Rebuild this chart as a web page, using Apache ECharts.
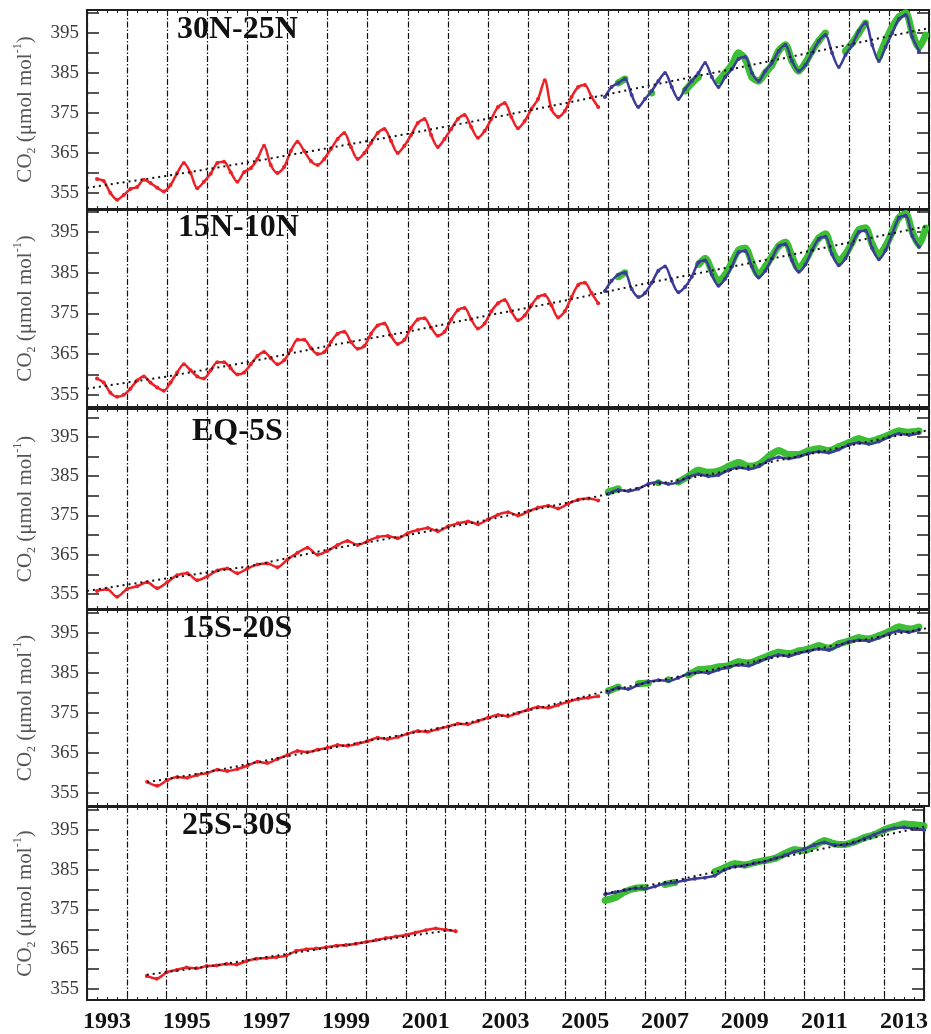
<!DOCTYPE html>
<html>
<head>
<meta charset="utf-8">
<script src="https://cdn.jsdelivr.net/npm/echarts@6/dist/echarts.min.js"></script>
<style>
  html, body { margin: 0; padding: 0; background: #fff; }
  #chart { width: 931px; height: 1034px; }
</style>
</head>
<body>
<div id="chart"></div>
<script>
// tick labels / names
const yearLabels = ['1993', '1994', '1995', '1996', '1997', '1998', '1999', '2000', '2001', '2002', '2003',
  '2004', '2005', '2006', '2007', '2008', '2009', '2010', '2011', '2012', '2013'];
const panelNames = ['30N-25N', '15N-10N', 'EQ-5S', '15S-20S', '25S-30S'];
const yTickValues = [355, 360, 365, 370, 375, 380, 385, 390, 395, 400];
const yLabelValues = [355, 365, 375, 385, 395];

// ---- 30N-25N ----  red: from 1993.25 every 2 months, blue: from 2005.917, green: from 2006.25
const red30N = [358.5, 358, 355, 353.3, 354.5, 356,
  356.5, 358.3, 357.5, 356.3, 355.4, 357,
  360, 362.5, 360, 356.2, 357.8, 359.8,
  362.5, 362.8, 360.2, 357.8, 360.2, 361.2,
  363.5, 366.8, 362, 360, 361.5, 365.5,
  367.8, 365.5, 363, 362, 363.5, 366,
  368.5, 370, 366.5, 363.5, 365, 367.5,
  370, 371, 368, 365, 366.8, 369.5,
  372.5, 373.5, 369.5, 366.5, 368.5, 371,
  373.5, 374.5, 371.5, 368.8, 370.5, 373.5,
  376.5, 377.5, 374, 371.2, 373, 376,
  378.5, 383.2, 376, 374, 375.5, 379,
  381.5, 382, 379, 376.5];
const blue30N = [379, 381.5, 382.5, 383.5,
  379.5, 376.5, 378.5, 380.5, 383, 385,
  381.5, 378.5, 381, 383, 385, 387.5,
  384, 381.5, 384, 386, 388.5, 389,
  385, 383, 385.5, 387.5, 390.5, 392,
  388, 385.5, 387, 390, 393, 394.5,
  390, 386.5, 389.5, 392, 395.5, 397.5,
  392, 388, 391.5, 395, 398.5, 399.5,
  394, 390.5];
const green30N = [382.5, 383.5, null, null, null, 380,
  null, null, null, null, 380.5, 382.5,
  384, null, null, 383, 385, 387,
  390, 388.5, 384, 383, 385, 387,
  390.5, 392, 388, 385.5, 387.5, 390.5,
  393, 395, null, null, 390.5, 392.5,
  395, 397.5, null, 389, 393, 396.5,
  399, 400, 395, 391.5, 394.5];
const trend30N = [[1993, 356.3], [1995, 359.3], [1997, 362.6], [1999, 366.2], [2001, 369.8], [2003, 373.6],
  [2005, 377.6], [2007, 381.8], [2009, 385.8], [2011, 390], [2013, 394.2], [2014, 396.2]];

// ---- 15N-10N ----
const red15N = [359, 358, 355.5, 354.5, 355, 356.5,
  358.5, 359.5, 358, 356.8, 356, 358,
  360.5, 362.5, 361, 359.5, 359, 361,
  363, 363, 361.5, 360, 360.5, 362.5,
  364.5, 365.5, 364, 362.5, 363.5, 366,
  368.5, 368.5, 366.5, 365, 365.5, 368,
  370, 370.5, 368, 366.3, 367, 370,
  372, 372.5, 369.5, 367.5, 368.5, 371.5,
  373.5, 373.8, 371.5, 369.5, 370.5, 373.5,
  375.8, 376.3, 373.5, 371.3, 372.5, 375.5,
  377.5, 378.3, 375.5, 373.3, 374.5, 377,
  379, 379.5, 377, 374, 375.5, 379,
  382, 382.5, 380, 377.5];
const blue15N = [380.5, 383, 384.5, 385,
  381, 379, 380, 382.5, 385.5, 386.5,
  383, 380.2, 381.5, 384, 387.5, 388,
  384.5, 381.8, 383.5, 386.5, 390, 390.3,
  386.5, 383.8, 385.5, 388.5, 391.5, 392,
  388, 385.2, 387, 390.5, 393.3, 393.8,
  389.5, 386.8, 388.5, 392, 395, 395.3,
  391, 388.3, 390.5, 394.5, 398.5, 399,
  394, 391.3];
const green15N = [384, 385, null, null, null, null,
  null, null, null, null, null, null,
  387, 388.5, 385.5, 383, 384.5, 387.5,
  390.5, 391, 387.5, 384.5, 386.5, 389,
  391.5, 392.5, 389, 386, 388, 391,
  393.5, 394.5, 390.5, 388, 389.5, 392.5,
  395.5, 396, 392, 389.5, 391.5, 395,
  398.5, 399.5, 395, 392, 396];
const trend15N = [[1993, 356.5], [1995, 359.5], [1997, 363], [1999, 367], [2001, 370.5], [2003, 374.5],
  [2005, 378.3], [2007, 382.5], [2009, 386.3], [2011, 390.3], [2013, 394.5], [2014, 396.5]];

// ---- EQ-5S ----  red: from 1993.25 every 3 months, blue: from 2006.0, green: from 2006.0
const redEQ = [355.8, 356.2, 354.3, 356.3, 357, 358, 356.5, 358, 359.8, 360.3, 358.5, 359.5,
  361, 361.5, 360.3, 361.5, 362.5, 362.8, 361.8, 363.8, 365.5, 366.8, 365, 366,
  367.5, 368.5, 367.5, 368.5, 369.5, 369.8, 369.2, 370.5, 371.3, 371.8, 371, 372.2,
  373, 373.5, 372.8, 374, 375.2, 375.8, 375, 376, 377, 377.5, 376.8, 378,
  379, 379.3, 378.8];
const blueEQ = [380.5, 381.5, 381.2, 381.8, 383, 383.5, 383, 383.5, 384.8, 385.5,
  385, 385.3, 386.5, 387.2, 386.8, 387.5, 389, 389.8, 389.5, 390, 390.8, 391.2,
  391, 391.8, 393, 393.5, 393.2, 393.8, 395, 395.8, 395.5, 396];
const greenEQ = [381, 381.8, null, null, null, 383.3, null, 383.5, 385, 386.5, 386, 386.3,
  387.5, 388.5, 387.5, 388, 390, 391.5, 390.5, 390.5, 391.5, 392, 391.5, 392.5,
  393.5, 394.5, 393.8, 394.5, 395.5, 396.5, 396.2, 396.5];
const trendEQ = [[1993, 355.8], [1995, 359], [1997, 362], [1999, 366.3], [2001, 370], [2003, 373.9],
  [2005, 378.3], [2007, 382.6], [2009, 386.4], [2011, 390.6], [2013, 394.9], [2014, 396.7]];

// ---- 15S-20S ----  red: from 1994.5, blue: from 2006.0, green: from 2006.0 (every 3 months)
const red15S = [357.8, 356.8, 358.2, 359, 358.8, 359.5, 360, 360.8, 360.5, 361, 361.8,
  362.8, 362.5, 363.5, 364.5, 365.5, 365.2, 365.8, 366.3, 367, 366.8, 367.3, 368,
  368.8, 368.5, 369, 369.8, 370.5, 370.3, 371, 371.6, 372.3, 372.2, 373, 373.8,
  374.5, 374.2, 375, 375.8, 376.5, 376.3, 377, 377.8, 378.5, 378.8, 379.2];
const blue15S = [380.2, 381.3, 381, 382, 382.8, 383.2, 383, 383.8, 384.8, 385.2,
  385, 385.8, 386.5, 387, 386.8, 387.8, 388.8, 389.5, 389.2, 390, 390.5, 391,
  390.8, 391.8, 392.8, 393.2, 393, 393.8, 394.8, 395.5, 395.2, 395.8];
const green15S = [380.5, 381.5, null, 382.3, 382.5, null, 383.3, null, 384.5, 385.8, 386, 386.5,
  386.8, 387.8, 387.5, 388.3, 389.3, 390.2, 389.8, 390.5, 391, 391.8, 391.2, 392.3,
  393, 393.8, 393.5, 394.3, 395.3, 396.5, 396, 396.5];
const trend15S = [[1994.5, 357.7], [1996, 360.2], [1998, 364.2], [2000, 368], [2002, 371.6], [2004, 375.6],
  [2006, 380.6], [2008, 384.6], [2010, 388.6], [2012, 392.6], [2014, 396.3]];

// ---- 25S-30S ----  red: from 1994.5, blue: from 2006.0, green: from 2006.0 (every 3 months)
const red25S = [358.3, 357.6, 359.2, 359.8, 360.4, 360.2, 360.8, 360.9, 361.3, 361.2, 362,
  362.6, 362.8, 363, 363.4, 364.6, 365, 365.2, 365.5, 365.9, 366.1, 366.4, 366.8,
  367.3, 367.8, 368.2, 368.6, 369.2, 369.8, 370.2, 369.9, 369.5];
const blue25S = [378.8, 379.3, 379.8, 380.3, 380.2, 380.8, 381.5, 381.8, 382.3, 382.7, 383, 383.5,
  385, 385.8, 386, 386.6, 387, 387.8, 388.6, 389.5, 390.2, 391.2, 391.8, 391.2,
  391.2, 391.8, 392.8, 393.8, 394.8, 395.4, 395.6, 395.3, 395];
const green25S = [377.3, 378, 379.5, 380.3, 380.5, null, 381.3, 381.8, null, null, null, 384.5,
  385.5, 386.5, 386.2, 386.8, 387.3, 387.8, 389, 390, 389.8, 391, 392.3, 391.5,
  391.3, 392, 393, 393.8, 395, 395.8, 396.5, 396.3, 396];
const trend25S = [[1994.5, 358.6], [1996, 360.6], [1998, 363.8], [2000, 366.8], [2002.25, 370], [2004, '-'],
  [2006, 379], [2008, 382.8], [2010, 387.2], [2012, 391.4], [2014, 395.8]];

const panels = [
  { red: red30N, redStart: 1993.25, step: 1 / 6, blue: blue30N, blueStart: 2005.917, green: green30N, greenStart: 2006.25, trend: trend30N },
  { red: red15N, redStart: 1993.25, step: 1 / 6, blue: blue15N, blueStart: 2005.917, green: green15N, greenStart: 2006.25, trend: trend15N },
  { red: redEQ, redStart: 1993.25, step: 1 / 4, blue: blueEQ, blueStart: 2006.0, green: greenEQ, greenStart: 2006.0, trend: trendEQ },
  { red: red15S, redStart: 1994.5, step: 1 / 4, blue: blue15S, blueStart: 2006.0, green: green15S, greenStart: 2006.0, trend: trend15S },
  { red: red25S, redStart: 1994.5, step: 1 / 4, blue: blue25S, blueStart: 2006.0, green: green25S, greenStart: 2006.0, trend: trend25S },
];

// layout of the stacked panels
const layout = [
  { top: 10, height: 199, yMin: 351, yMax: 400.75, title: [177, 33] },
  { top: 210, height: 197, yMin: 352, yMax: 400.4, title: [178, 231] },
  { top: 409, height: 200, yMin: 351.2, yMax: 402.1, title: [192, 435] },
  { top: 610, height: 196, yMin: 351.75, yMax: 400.75, title: [182, 632] },
  { top: 807, height: 194, yMin: 352.25, yMax: 400.75, title: [182, 829] },
];

const serif = '"Liberation Serif", "DejaVu Serif", serif';
const frame = '#1e1e1e';

const toPoints = (values, start, step) =>
  values.map((v, i) => [start + i * step, v === null ? '-' : v]);

const option = {
  animation: false,
  backgroundColor: '#fff',
  grid: [],
  xAxis: [],
  yAxis: [],
  series: [],
  graphic: [],
};

layout.forEach((l, g) => {
  option.grid.push({ left: 87, right: 2, top: l.top, height: l.height });

  const xBase = {
    gridIndex: g, type: 'value', min: 1993, max: 2014, interval: 1,
    axisLine: { onZero: false, lineStyle: { color: frame, width: 2 } },
    axisTick: { inside: true, length: 6, lineStyle: { color: frame, width: 1 } },
    minorTick: { show: true, splitNumber: 4, length: 3, lineStyle: { color: frame, width: 1 } },
    axisLabel: { show: false },
  };
  option.xAxis.push(Object.assign({}, xBase, {
    position: 'bottom',
    splitLine: { show: true, lineStyle: { color: '#111', width: 1.2, type: [6, 2, 1.5, 2] } },
  }));
  option.xAxis.push(Object.assign({}, xBase, { position: 'top', splitLine: { show: false } }));

  const yBase = {
    gridIndex: g, type: 'value', min: l.yMin, max: l.yMax,
    axisLine: { show: true, lineStyle: { color: frame, width: 2 } },
    axisTick: { show: true, inside: true, length: 12, customValues: yTickValues, lineStyle: { color: frame, width: 1.5 } },
    splitLine: { show: false },
  };
  option.yAxis.push(Object.assign({}, yBase, {
    position: 'left',
    axisLabel: { customValues: yLabelValues, fontFamily: serif, fontSize: 19, color: '#3c3c3c', margin: 8 },
    name: '{n|CO}{s|2}{n| (μmol mol}{p|-1}{n|)}',
    nameLocation: 'middle', nameRotate: 90, nameGap: 49,
    nameTextStyle: {
      color: '#555',
      rich: {
        n: { fontFamily: serif, fontSize: 21, lineHeight: 26, color: '#555' },
        s: { fontFamily: serif, fontSize: 12, verticalAlign: 'bottom', color: '#555' },
        p: { fontFamily: serif, fontSize: 12, verticalAlign: 'top', color: '#555' },
      },
    },
  }));
  option.yAxis.push(Object.assign({}, yBase, { position: 'right', axisLabel: { show: false } }));

  const p = panels[g];
  const xi = g * 2, yi = g * 2;
  option.series.push({
    type: 'line', xAxisIndex: xi, yAxisIndex: yi, z: 2, smooth: 0.3,
    data: toPoints(p.green, p.greenStart, p.step),
    symbol: 'circle', symbolSize: 7, showSymbol: true,
    itemStyle: { color: '#3dbf35' },
    lineStyle: { color: '#3dbf35', width: 7 },
  });
  option.series.push({
    type: 'line', xAxisIndex: xi, yAxisIndex: yi, z: 3, smooth: 0.3,
    data: toPoints(p.red, p.redStart, p.step),
    symbol: 'circle', symbolSize: 4, showSymbol: true,
    itemStyle: { color: '#ec2027' },
    lineStyle: { color: '#ec2027', width: 2.5 },
  });
  option.series.push({
    type: 'line', xAxisIndex: xi, yAxisIndex: yi, z: 4, smooth: 0.3,
    data: toPoints(p.blue, p.blueStart, p.step),
    symbol: 'circle', symbolSize: 4, showSymbol: true,
    itemStyle: { color: '#3b3b98' },
    lineStyle: { color: '#3b3b98', width: 2.5 },
  });
  option.series.push({
    type: 'line', xAxisIndex: xi, yAxisIndex: yi, z: 5,
    data: p.trend, showSymbol: false, symbol: 'none',
    lineStyle: { color: '#111', width: 2, type: [2, 4] },
  });

  option.graphic.push({
    type: 'text', left: l.title[0], top: l.title[1] - 19, z: 10,
    style: { text: panelNames[g], font: 'bold 32px ' + serif, fill: '#111' },
  });
});

// year labels centred in each year band under the bottom panel
option.xAxis.push({
  gridIndex: 4, type: 'category', data: yearLabels, boundaryGap: true, position: 'bottom',
  axisLine: { show: false }, axisTick: { show: false }, splitLine: { show: false },
  axisLabel: { interval: 1, fontFamily: serif, fontWeight: 'bold', fontSize: 24, color: '#111', margin: 10 },
});

const chart = echarts.init(document.getElementById('chart'));
chart.setOption(option);
</script>
</body>
</html>
